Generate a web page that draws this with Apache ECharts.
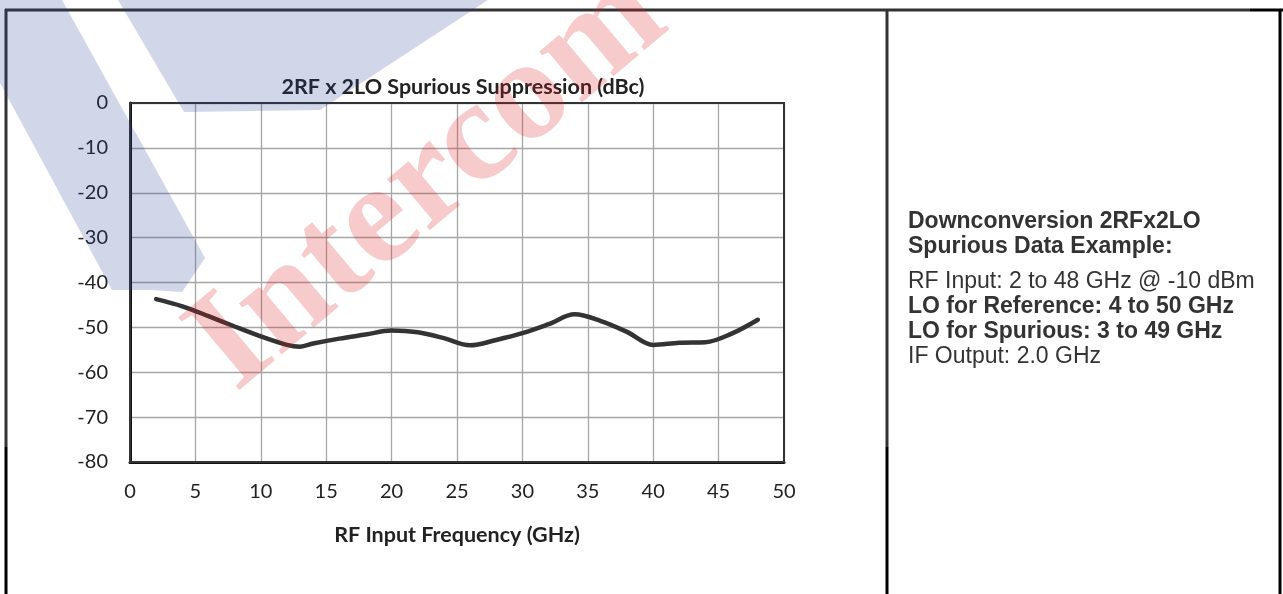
<!DOCTYPE html>
<html>
<head>
<meta charset="utf-8">
<script src="https://cdn.jsdelivr.net/npm/echarts@6/dist/echarts.min.js"></script>
<style>
html,body{margin:0;padding:0;background:#fff;}
#chart{width:1283px;height:594px;}
</style>
</head>
<body>
<div id="chart"></div>
<script>
// ---- data ----
const freqGHz = [2, 4, 6, 8, 10, 12, 13, 14, 16, 18, 20, 22, 24, 26, 28, 30, 32, 34, 36, 38, 40, 42, 44, 46, 48];
const spurDBc = [-43.7, -45.3, -47.5, -49.8, -52.0, -53.9, -54.3, -53.6, -52.5, -51.6, -50.7, -51.1, -52.4, -54.0, -52.8, -51.3, -49.3, -47.1, -48.6, -51.0, -53.9, -53.4, -53.3, -51.4, -48.3];
const chartTitle = '2RF x 2LO Spurious Suppression (dBc)';
const xAxisTitle = 'RF Input Frequency (GHz)';
const noteLines = [
  ['Downconversion 2RFx2LO', true],
  ['Spurious Data Example:', true],
  ['RF Input: 2 to 48 GHz @ -10 dBm', false],
  ['LO for Reference: 4 to 50 GHz', true],
  ['LO for Spurious: 3 to 49 GHz', true],
  ['IF Output: 2.0 GHz', false]
];

const chart = echarts.init(document.getElementById('chart'), null, {renderer: 'canvas'});
const chartFont = 'Lato, "Open Sans", sans-serif';
const noteFont = '"Liberation Sans", Arial, sans-serif';

const graphics = [];
// frame lines
const frameGray = '#333333';
graphics.push({type:'line', shape:{x1:5, y1:10, x2:1250, y2:10}, style:{stroke:frameGray, lineWidth:3}, z:1});
graphics.push({type:'line', shape:{x1:1250, y1:10, x2:1283, y2:10}, style:{stroke:'#000', lineWidth:3}, z:1});
graphics.push({type:'line', shape:{x1:6, y1:9, x2:6, y2:447}, style:{stroke:frameGray, lineWidth:3}, z:1});
graphics.push({type:'line', shape:{x1:6, y1:447, x2:6, y2:594}, style:{stroke:'#000', lineWidth:3}, z:1});
graphics.push({type:'line', shape:{x1:887, y1:10, x2:887, y2:447}, style:{stroke:frameGray, lineWidth:3}, z:1});
graphics.push({type:'line', shape:{x1:887, y1:447, x2:887, y2:594}, style:{stroke:'#000', lineWidth:3}, z:1});
graphics.push({type:'line', shape:{x1:1280, y1:9, x2:1280, y2:594}, style:{stroke:'#000', lineWidth:3}, z:1});
// notes
const noteY = [222, 246.5, 282, 307, 332, 357];
noteLines.forEach(function(l, i){
  graphics.push({type:'text', x:908, y: noteY[i], style:{text:l[0], font:(l[1]?'bold ':'') + '23px ' + noteFont, fill:'#333333', verticalAlign:'middle'}, z:5});
});
// watermark (logo shapes)
const wmBlue = 'rgba(40,60,150,0.21)';
graphics.push({type:'polygon', shape:{points:[[-45,0],[62,0],[205,258],[182,292],[150,290],[112,290]]}, style:{fill:wmBlue}, z:50, silent:true});
graphics.push({type:'polygon', shape:{points:[[118,0],[488,0],[320,110],[184,112]]}, style:{fill:wmBlue}, z:50, silent:true});
graphics.push({type:'text', x:258, y:420, rotation:Math.PI*40/180, style:{text:'Intercom', font:'bold 145px "Liberation Serif", serif', fill:'rgba(220,30,30,0.23)', verticalAlign:'bottom'}, z:51, silent:true});

chart.setOption({
  animation: false,
  backgroundColor: '#fff',
  title: {
    text: chartTitle,
    left: 458, top: 71, textAlign: 'center',
    textStyle: {fontFamily: chartFont, fontWeight: 'bold', fontSize: 21.5, color: '#222'}
  },
  grid: {left: 130, top: 103, width: 654, height: 359, containLabel: false},
  xAxis: {
    type: 'value', min: 0, max: 50, interval: 5,
    name: xAxisTitle, nameLocation: 'middle', nameGap: 62,
    nameTextStyle: {fontFamily: chartFont, fontWeight: 'bold', fontSize: 21.5, color: '#222'},
    axisLine: {show: true, onZero: false, lineStyle: {color: '#111', width: 3}},
    axisTick: {show: false},
    axisLabel: {fontFamily: chartFont, fontSize: 20, color: '#222', margin: 20},
    splitLine: {show: true, lineStyle: {color: '#a6a6a6', width: 1.3}}
  },
  yAxis: {
    type: 'value', min: -80, max: 0, interval: 10,
    axisLine: {show: true, onZero: false, lineStyle: {color: '#111', width: 3}},
    axisTick: {show: false},
    axisLabel: {fontFamily: chartFont, fontSize: 20, color: '#222', margin: 22},
    splitLine: {show: true, lineStyle: {color: '#a6a6a6', width: 1.3}}
  },
  graphic: graphics.concat([
    {type:'rect', shape:{x:130, y:103, width:654, height:359}, style:{fill:'none', stroke:'#333', lineWidth:2}, z:3, silent:true}
  ]),
  series: [{
    type: 'line',
    data: freqGHz.map(function(f, i){ return [f, spurDBc[i]]; }),
    smooth: 0.35,
    showSymbol: false,
    lineStyle: {color: '#333333', width: 4.5, cap: 'round'},
    z: 4
  }]
});
</script>
</body>
</html>
